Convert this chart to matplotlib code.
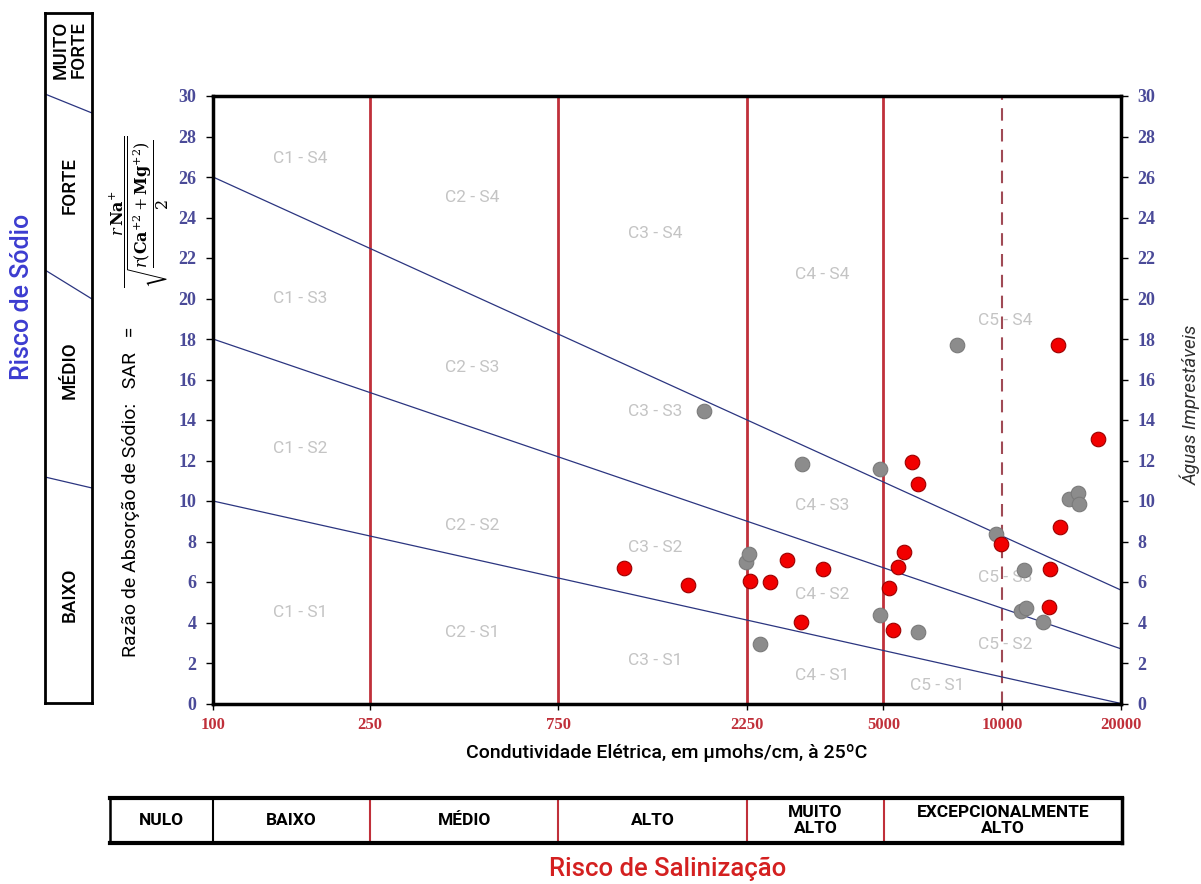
import matplotlib
matplotlib.use("Agg")
import matplotlib.pyplot as plt
from matplotlib.ticker import FixedLocator, NullLocator, FixedFormatter

ec_ticks = [100, 250, 750, 2250, 5000, 10000, 20000]
ec_tick_labels = ["100", "250", "750", "2250", "5000", "10000", "20000"]
sar_ticks = list(range(0, 31, 2))

# retas de risco de sodio (SAR em CE=100 e CE=20000)
linhas_sar_100 = [10, 18, 26]
linhas_sar_20000 = [0, 2.7, 5.6]

# amostras (CE, SAR)
cinza_ec = [1753, 2246, 2281, 2438, 3105, 4910, 4910, 6133, 7688, 9622,
            11178, 11513, 11336, 12718, 14750, 15574, 15636]
cinza_sar = [14.46, 6.98, 7.40, 2.93, 11.85, 11.60, 4.36, 3.52, 17.72, 8.39,
             4.56, 4.72, 6.57, 4.02, 10.12, 10.40, 9.87]

vermelho_ec = [1098, 1598, 2294, 2579, 2843, 3099, 3517, 5175, 5297, 5433,
               5649, 5908, 6108, 9945, 13118, 13194, 13855, 14045, 17441]
vermelho_sar = [6.69, 5.86, 6.07, 6.01, 7.08, 4.02, 6.62, 5.71, 3.65, 6.75,
                7.49, 11.93, 10.84, 7.90, 4.77, 6.65, 17.72, 8.72, 13.08]

# rotulos das classes
classes = ["C1 - S4", "C1 - S3", "C1 - S2", "C1 - S1",
           "C2 - S4", "C2 - S3", "C2 - S2", "C2 - S1",
           "C3 - S4", "C3 - S3", "C3 - S2", "C3 - S1",
           "C4 - S4", "C4 - S3", "C4 - S2", "C4 - S1",
           "C5 - S4", "C5 - S3", "C5 - S2", "C5 - S1"]
classes_ec = [166, 166, 166, 166,
              453, 453, 453, 453,
              1318, 1318, 1318, 1318,
              3491, 3491, 3491, 3491,
              10160, 10160, 10160, 6839]
classes_sar = [26.9, 20.0, 12.6, 4.5,
               25.0, 16.6, 8.8, 3.5,
               23.2, 14.4, 7.7, 2.1,
               21.2, 9.8, 5.4, 1.4,
               18.9, 6.2, 2.9, 0.87]

risco_sal = ["NULO", "BAIXO", "MÉDIO", "ALTO", "MUITO\nALTO", "EXCEPCIONALMENTE\nALTO"]
limites_sal = [55, 100, 250, 750, 2250, 5000, 20000]

risco_sodio = ["BAIXO", "MÉDIO", "FORTE", "MUITO\nFORTE"]

plt.rcParams["mathtext.fontset"] = "dejavuserif"

TXT = ["Roboto", "DejaVu Sans"]
NUM = ["Liberation Serif", "DejaVu Serif"]
azul_num = "#4a4a98"
verm_lin = "#c0303a"

W, H = 1201, 884
fig = plt.figure(figsize=(W / 100, H / 100), dpi=100)

def fx(px):
    return px / W

def fy(py):
    return 1 - py / H

# eixo principal
ax = fig.add_axes([fx(213), fy(703.5), fx(1121 - 213), (703.5 - 96) / H])
ax.set_xscale("log")
ax.set_xlim(100, 20000)
ax.set_ylim(0, 30)

for v in [250, 750, 2250, 5000]:
    ax.axvline(v, color=verm_lin, lw=2, zorder=1)
ax.axvline(10000, color="#a04a55", lw=1.5, ls=(0, (6, 4)), zorder=1)

for a, b in zip(linhas_sar_100, linhas_sar_20000):
    ax.plot([100, 20000], [a, b], color="#2b3580", lw=0.9, zorder=2)

for t, x, y in zip(classes, classes_ec, classes_sar):
    ax.text(x, y, t, color="#c4c4c4", fontsize=12.5, ha="center", va="center",
            family=TXT, zorder=2)

ax.scatter(cinza_ec, cinza_sar, s=110, color="#8c8c8c", edgecolors="#7a7a7a",
           linewidths=0.8, zorder=3)
ax.scatter(vermelho_ec, vermelho_sar, s=110, color="#f20000", edgecolors="#9a0000",
           linewidths=0.8, zorder=4)

ax.xaxis.set_major_locator(FixedLocator(ec_ticks))
ax.xaxis.set_major_formatter(FixedFormatter(ec_tick_labels))
ax.xaxis.set_minor_locator(NullLocator())
ax.set_yticks(sar_ticks)
ax.tick_params(axis="x", colors="black", labelcolor="#c0303a", length=4, width=1,
               labelsize=12, pad=6)
ax.tick_params(axis="y", length=5, width=1, labelcolor=azul_num, labelsize=13,
               left=True, right=True, labelleft=True, labelright=True, pad=7)
for lab in ax.get_xticklabels() + ax.get_yticklabels():
    lab.set_family(NUM)
    lab.set_fontweight("bold")
for s in ax.spines.values():
    s.set_linewidth(2.5)

ax.set_xlabel("Condutividade Elétrica, em µmohs/cm, à 25ºC", family=TXT,
              fontsize=14, fontweight="medium", labelpad=8)

# rotulos do eixo y
fig.text(fx(131), fy(492), "Razão de Absorção de Sódio:   SAR   =", rotation=90,
         ha="center", va="center", fontsize=14, family=TXT)
fig.text(fx(139), fy(212),
         r"$\dfrac{r\,\mathbf{Na}^{+}}{\sqrt{\dfrac{r(\mathbf{Ca}^{+2}+\mathbf{Mg}^{+2})}{2}}}$",
         rotation=90, ha="center", va="center", fontsize=11.5)
fig.text(fx(1190), fy(405), "Águas Imprestáveis", rotation=90, ha="center",
         va="center", fontsize=13.5, style="italic", color="#303030", family=TXT)

# caixa do risco de sodio
axs = fig.add_axes([fx(45), fy(703), fx(92 - 45), (703 - 13) / H])
axs.set_xlim(0, 1)
axs.set_ylim(703, 13)
axs.set_xticks([])
axs.set_yticks([])
for s in axs.spines.values():
    s.set_linewidth(2)
for y0, y1 in [(477, 488), (270, 299), (94, 113)]:
    axs.plot([0, 1], [y0, y1], color="#2b3580", lw=0.9)
for t, y in zip(risco_sodio, [595, 370, 186, 50]):
    axs.text(0.52, y, t, rotation=90, ha="center", va="center", fontsize=13.5,
             family=TXT, fontweight="medium", linespacing=1.0)
fig.text(fx(22), fy(297), "Risco de Sódio", rotation=90, ha="center", va="center",
         fontsize=18, color="#3c3cd0", family=TXT, fontweight="medium")

# caixa do risco de salinizacao
axb = fig.add_axes([fx(110), fy(843), fx(1122 - 110), (843 - 798) / H])
axb.set_xscale("log")
axb.set_xlim(limites_sal[0], limites_sal[-1])
axb.set_ylim(0, 1)
axb.set_xticks([])
axb.set_yticks([])
axb.xaxis.set_minor_locator(NullLocator())
axb.spines["top"].set_linewidth(3)
axb.spines["bottom"].set_linewidth(3)
axb.spines["left"].set_linewidth(1.8)
axb.spines["right"].set_linewidth(2.5)
axb.axvline(limites_sal[1], color="black", lw=1.5)
for v in limites_sal[2:-1]:
    axb.axvline(v, color=verm_lin, lw=1.5)
for t, a, b in zip(risco_sal, limites_sal[:-1], limites_sal[1:]):
    axb.text((a * b) ** 0.5, 0.5, t, ha="center", va="center", fontsize=12.5,
             fontweight="bold", family=TXT, linespacing=1.1)

fig.text(fx(668), fy(869), "Risco de Salinização", ha="center", va="center",
         fontsize=18.5, color="#d42020", family=TXT, fontweight="medium")

fig.savefig("out.png", dpi=100)
